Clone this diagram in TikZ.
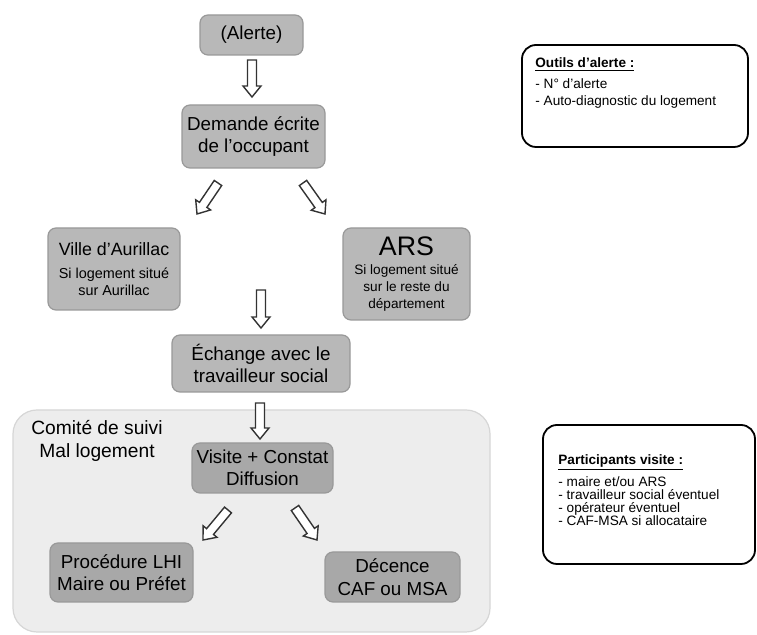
\documentclass[tikz,border=0pt]{standalone}
\usepackage{fontspec}
\setmainfont{Liberation Sans}
\usetikzlibrary{calc}
\definecolor{boxfill}{HTML}{B8B8B8}
\definecolor{boxdark}{HTML}{A8A8A8}
\definecolor{boxline}{HTML}{999999}
\definecolor{comfill}{HTML}{EDEDED}
\definecolor{comline}{HTML}{D6D6D6}
\definecolor{arrline}{HTML}{333333}
\newcommand\blockarrow[2]{%
  \coordinate (hb) at ($(#2)!5.5pt!(#1)$);
  \draw[barrow] ($(#1)!2.25pt!90:(#2)$) -- ($(hb)!2.25pt!90:(#2)$) -- ($(hb)!4.5pt!90:(#2)$) -- (#2)
     -- ($(hb)!4.5pt!-90:(#2)$) -- ($(hb)!2.25pt!-90:(#2)$) -- ($(#1)!2.25pt!-90:(#2)$) -- cycle;}
\begin{document}
\begin{tikzpicture}[x=0.5pt,y=-0.5pt,
  gbox/.style={draw=boxline, fill=boxfill, rounded corners=4pt, line width=0.6pt, inner sep=0pt,
    align=center, font=\fontsize{9.4}{11.2}\selectfont},
  barrow/.style={draw=arrline, fill=white, line width=0.7pt, line join=miter},
  infobox/.style={draw=black, fill=white, rounded corners=7pt, line width=0.9pt},
  infotext/.style={align=left, anchor=north west, inner sep=0pt, font=\fontsize{6.8}{8.6}\selectfont}]
\useasboundingbox (0,0) rectangle (757,635);
\fill[white] (0,0) rectangle (757,635);

% Comite background
\draw[fill=comfill, draw=comline, line width=0.6pt, rounded corners=12pt] (13,410) rectangle (490,632);
\node[align=center, inner sep=0pt, font=\fontsize{9.6}{11.2}\selectfont] (comite) at (97,441) {Comité de suivi\\Mal logement};

% main boxes
\node[gbox, minimum width=51.5pt, minimum height=20pt] (alerte) at (251.5,35) {(Alerte)};
\node[gbox, minimum width=71.5pt, minimum height=31.5pt] (demande) at (253.5,136.5) {Demande écrite\\de l'occupant};
\node[gbox, minimum width=66pt, minimum height=41pt, font=\fontsize{7.2}{8.5}\selectfont] (ville) at (114,269)
  {{\fontsize{8.9}{10}\selectfont Ville d'Aurillac}\\[3pt]Si logement situé\\sur Aurillac};
\node[gbox, minimum width=63.5pt, minimum height=46pt, font=\fontsize{6.8}{8.5}\selectfont] (ars) at (406.5,274)
  {{\fontsize{13.4}{14}\selectfont ARS}\\[1pt]Si logement situé\\sur le reste du\\département};
\node[gbox, minimum width=89pt, minimum height=28.5pt] (echange) at (261,363.5) {Échange avec le\\travailleur social};
\node[gbox, fill=boxdark, minimum width=70.5pt, minimum height=25pt] (visite) at (262.5,468) {Visite + Constat\\Diffusion};
\node[gbox, fill=boxdark, minimum width=71.5pt, minimum height=29.5pt] (lhi) at (121.5,572.5) {Procédure LHI\\Maire ou Préfet};
\node[gbox, fill=boxdark, minimum width=67.5pt, minimum height=25pt] (decence) at (392.5,577) {Décence\\CAF ou MSA};

% block arrows
\coordinate (a1s) at (252,60);  \coordinate (a1e) at (252,97);
\coordinate (a2s) at (218,183); \coordinate (a2e) at (197,214);
\coordinate (a3s) at (303,183); \coordinate (a3e) at (325,214);
\coordinate (a4s) at (261,290); \coordinate (a4e) at (261,328);
\coordinate (a5s) at (260,403); \coordinate (a5e) at (260,439);
\coordinate (a6s) at (228,510); \coordinate (a6e) at (203,540);
\coordinate (a7s) at (295,508); \coordinate (a7e) at (317,540);
\blockarrow{a1s}{a1e}
\blockarrow{a2s}{a2e}
\blockarrow{a3s}{a3e}
\blockarrow{a4s}{a4e}
\blockarrow{a5s}{a5e}
\blockarrow{a6s}{a6e}
\blockarrow{a7s}{a7e}

% info boxes
\draw[infobox] (522,45) rectangle (748,147);
\node[infotext] (outils) at (535,57) {\textbf{\underline{Outils d'alerte :}}\\[2pt]- N° d'alerte\\- Auto-diagnostic du logement};
\draw[infobox] (543,425) rectangle (755,564);
\node[infotext, font=\fontsize{6.8}{6.4}\selectfont] (particip) at (558,454) {\textbf{\underline{Participants visite :}}\\[2pt]- maire et/ou ARS\\- travailleur social éventuel\\- opérateur éventuel\\- CAF-MSA si allocataire};
\end{tikzpicture}
\end{document}
